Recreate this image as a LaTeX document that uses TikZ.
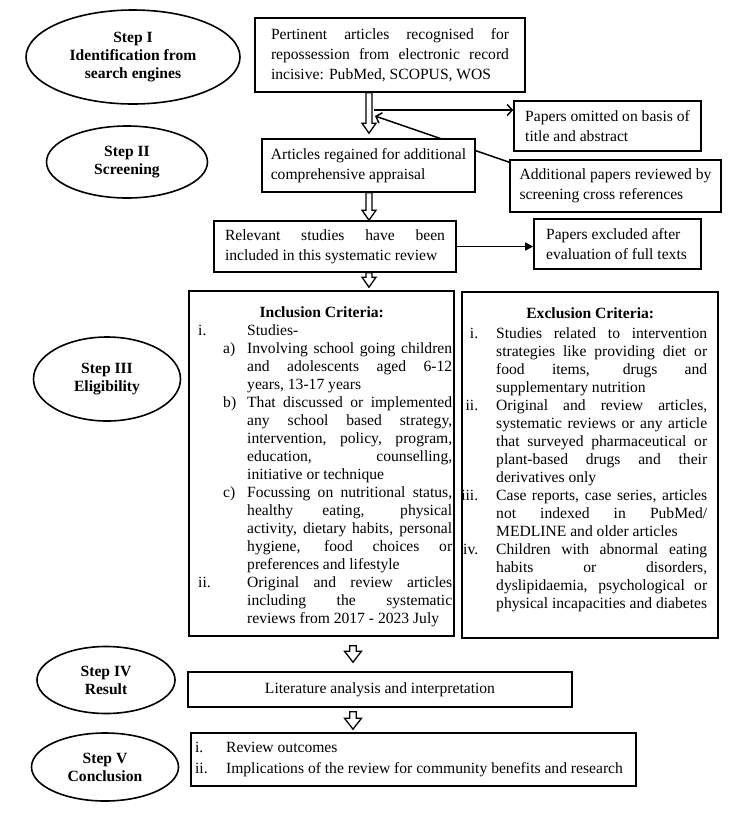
\documentclass[tikz,border=0pt]{standalone}
\usepackage{fontspec}
\setmainfont{Liberation Serif}
\usetikzlibrary{shapes.geometric,arrows.meta,calc}
\pgfdeclarelayer{background}
\pgfsetlayers{background,main}
\newcommand\jst[2]{\makebox[#1pt][s]{#2}}
\newcommand\hollowdown[5]{%
  \draw[hollowline] let \p1=(#1), \p2=(#2) in
    (\x1-#3pt,\y1) -- (\x1-#3pt,\y2+#5pt) -- (\x1-#4pt,\y2+#5pt) -- (\x1,\y2)
    -- (\x1+#4pt,\y2+#5pt) -- (\x1+#3pt,\y2+#5pt) -- (\x1+#3pt,\y1) -- cycle;}
\tikzset{
  box/.style={draw, line width=1.6pt, fill=white, inner sep=0pt, align=left, font=\fontsize{15.6}{20}\selectfont},
  stepell/.style={ellipse, draw, line width=1.6pt, fill=white, inner sep=0pt, align=center, font=\bfseries\fontsize{15.6}{18}\selectfont},
  txt/.style={inner sep=0pt, align=left, anchor=north west, font=\fontsize{15.6}{18}\selectfont},
  thinarrow/.style={line width=1.5pt, -{Straight Barb[length=5pt,width=11pt]}},
  solidarrow/.style={line width=1.5pt, -{Triangle[length=8pt,width=8pt]}},
  hollowline/.style={line width=1.3pt, fill=white, line join=miter},
}
\begin{document}
\begin{tikzpicture}[x=1pt,y=-1pt]
\useasboundingbox (0,0) rectangle (750,820);
\begin{pgfonlayer}{background}
\fill[white] (0,0) rectangle (750,820);
\end{pgfonlayer}

% step ellipses
\node[stepell, minimum width=214pt, minimum height=94pt] (s1) at (133,57) {Step I\\Identification from\\search engines};
\node[stepell, minimum width=161pt, minimum height=72pt] (s2) at (127,162) {Step II\\Screening};
\node[stepell, minimum width=147pt, minimum height=84pt] (s3) at (107,379) {Step III\\Eligibility};
\node[stepell, minimum width=138pt, minimum height=67pt] (s4) at (106,680) {Step IV\\Result};
\node[stepell, minimum width=147pt, minimum height=68pt] (s5) at (105,767) {Step V\\Conclusion};

% main boxes
\node[box, minimum width=270pt, minimum height=74pt] (b1) at (390,55)
  {\jst{238}{Pertinent articles recognised for}\\\jst{238}{repossession from electronic record}\\incisive: PubMed, SCOPUS, WOS};
\node[box, minimum width=213pt, minimum height=53pt] (b2) at (368.5,165.5)
  {Articles regained for additional\\comprehensive appraisal};
\node[box, minimum width=242pt, minimum height=51pt] (b3) at (335,246.5)
  {\jst{220}{Relevant studies have been}\\included in this systematic review};
\node[box, minimum width=187pt, minimum height=50pt] (pomit) at (607.5,126)
  {Papers omitted on basis of\\title and abstract};
\node[box, minimum width=211pt, minimum height=52pt] (addl) at (615.5,186)
  {Additional papers reviewed by\\screening cross references};
\node[box, minimum width=167pt, minimum height=50pt] (pexcl) at (617.5,244)
  {Papers excluded after\\evaluation of full texts\hspace*{2pt}};
\node[box, minimum width=265pt, minimum height=345pt] (incl) at (321.5,463.5) {};
\node[box, minimum width=256pt, minimum height=346pt] (excl) at (590,465) {};
\node[box, minimum width=384pt, minimum height=35pt] (lit) at (380,689.5) {Literature analysis and interpretation};
\node[box, minimum width=445pt, minimum height=53pt, font=\fontsize{15.6}{21}\selectfont] (concl) at (413.5,759.5)
  {\makebox[31pt][l]{i.}Review outcomes\\\makebox[31pt][l]{ii.}Implications of the review for community benefits and research\hspace*{9pt}};

% criteria texts
\node[txt] (inct) at (189,306) {%
\makebox[265pt]{\bfseries Inclusion Criteria:}\\
\hspace*{9pt}\makebox[49pt][l]{i.}Studies-\\
\hspace*{34pt}\makebox[24pt][l]{a)}\jst{205}{Involving school going children}\\
\hspace*{58pt}\jst{205}{and adolescents aged 6-12}\\
\hspace*{58pt}years, 13-17 years\\
\hspace*{34pt}\makebox[24pt][l]{b)}\jst{205}{That discussed or implemented}\\
\hspace*{58pt}\jst{205}{any school based strategy,}\\
\hspace*{58pt}\jst{205}{intervention, policy, program,}\\
\hspace*{58pt}\jst{205}{education, counselling,}\\
\hspace*{58pt}initiative or technique\\
\hspace*{34pt}\makebox[24pt][l]{c)}\jst{205}{Focussing on nutritional status,}\\
\hspace*{58pt}\jst{205}{healthy eating, physical}\\
\hspace*{58pt}\jst{205}{activity, dietary habits, personal}\\
\hspace*{58pt}\jst{205}{hygiene, food choices or}\\
\hspace*{58pt}preferences and lifestyle\\
\hspace*{9pt}\makebox[49pt][l]{ii.}\jst{205}{Original and review articles}\\
\hspace*{58pt}\jst{205}{including the systematic}\\
\hspace*{58pt}reviews from 2017 - 2023 July};

\node[txt] (exct) at (462,307) {%
\makebox[256pt]{\bfseries Exclusion Criteria:}\\[2pt]
\makebox[16pt][r]{i.}\hspace*{18pt}\jst{211}{Studies related to intervention}\\
\hspace*{34pt}\jst{211}{strategies like providing diet or}\\
\hspace*{34pt}\jst{211}{food items, drugs and}\\
\hspace*{34pt}supplementary nutrition\\
\makebox[16pt][r]{ii.}\hspace*{18pt}\jst{211}{Original and review articles,}\\
\hspace*{34pt}\jst{211}{systematic reviews or any article}\\
\hspace*{34pt}\jst{211}{that surveyed pharmaceutical or}\\
\hspace*{34pt}\jst{211}{plant-based drugs and their}\\
\hspace*{34pt}derivatives only\\
\makebox[16pt][r]{iii.}\hspace*{18pt}\jst{211}{Case reports, case series, articles}\\
\hspace*{34pt}\jst{211}{not indexed in PubMed/}\\
\hspace*{34pt}MEDLINE and older articles\\
\makebox[16pt][r]{iv.}\hspace*{18pt}\jst{211}{Children with abnormal eating}\\
\hspace*{34pt}\jst{211}{habits or disorders,}\\
\hspace*{34pt}\jst{211}{dyslipidaemia, psychological or}\\
\hspace*{34pt}physical incapacities and diabetes};

% connectors
\coordinate (ax) at (369,0);
\coordinate (bx) at (353,0);
\coordinate (j1) at (374,110);
\coordinate (j2) at (375,116);
\begin{pgfonlayer}{background}
\draw[thinarrow] ($(addl.north west)+(0,3)$) -- (j2);
\end{pgfonlayer}
\draw[thinarrow] (j1) -- (j1 -| pomit.west);
\draw[solidarrow] (b3.east) -- (b3.east -| pexcl.west);
\hollowdown{b1.south -| ax}{$(b2.north -| ax)+(0,-5)$}{3}{7}{10}
\hollowdown{b2.south -| ax}{b3.north -| ax}{3}{7}{10}
\hollowdown{b3.south -| ax}{$(incl.north -| ax)+(0,-3)$}{3}{7}{10}
\hollowdown{$(incl.south -| bx)+(0,9)$}{$(lit.north -| bx)+(0,-9)$}{3.3}{8.5}{11}
\hollowdown{$(lit.south -| bx)+(0,4)$}{$(concl.north -| bx)+(0,-3)$}{3.3}{8.5}{11}
\end{tikzpicture}
\end{document}
